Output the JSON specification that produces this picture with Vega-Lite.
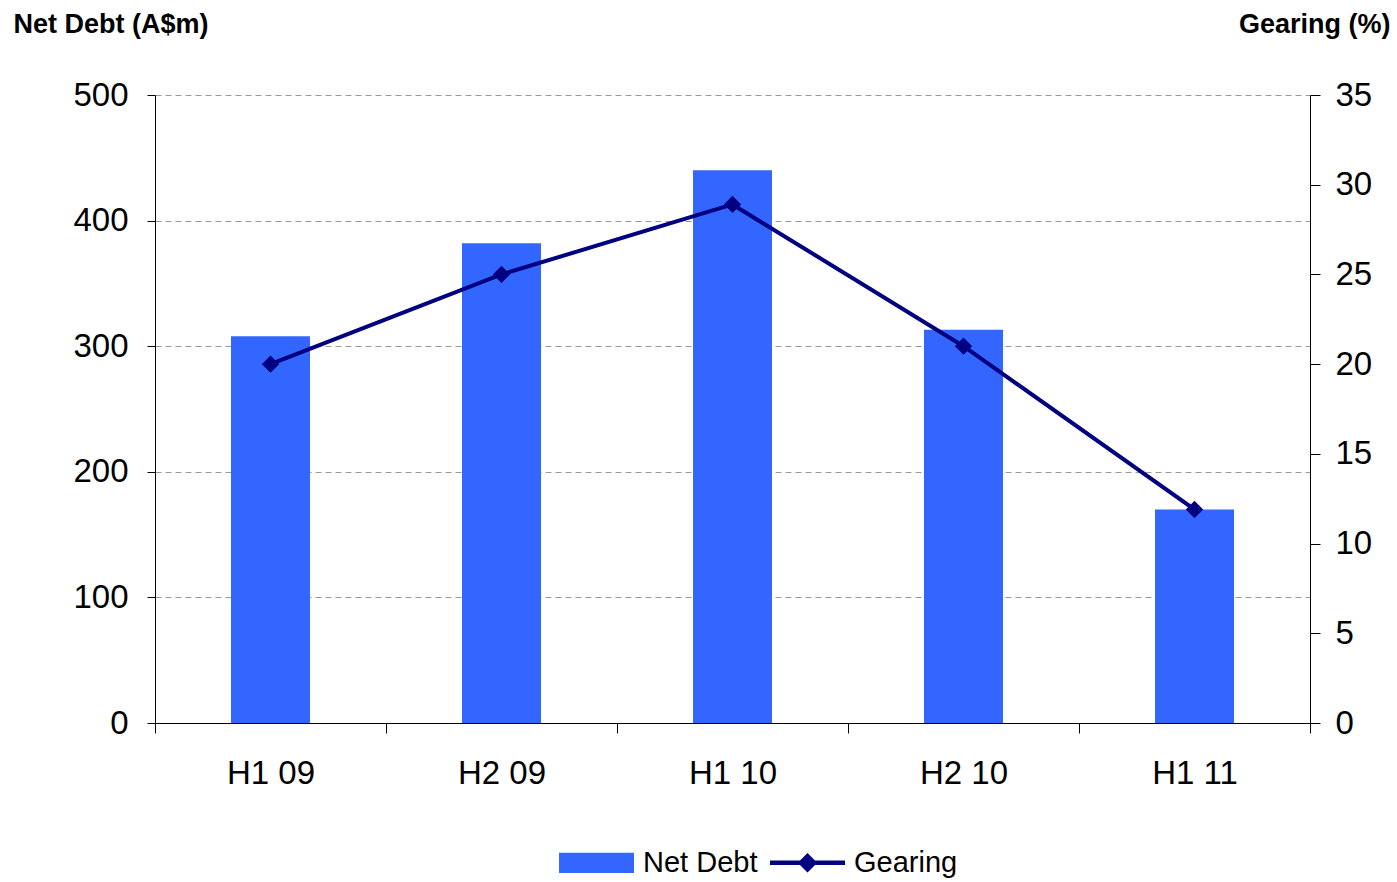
{
  "$schema": "https://vega.github.io/schema/vega-lite/v6.json",
  "width": 1155,
  "height": 628,
  "autosize": {"type": "none"},
  "padding": {"left": 155, "top": 95, "right": 87, "bottom": 159},
  "background": "white",
  "config": {
    "font": "Liberation Sans",
    "view": {"stroke": null},
    "axis": {"labelFont": "Liberation Sans", "titleFont": "Liberation Sans", "labelColor": "black", "titleColor": "black", "domainColor": "black", "tickColor": "black"}
  },
  "data": {
    "values": [
      {"period": "H1 09", "netDebt": 308, "gearing": 20.0},
      {"period": "H2 09", "netDebt": 382, "gearing": 25.0},
      {"period": "H1 10", "netDebt": 440, "gearing": 28.9},
      {"period": "H2 10", "netDebt": 313, "gearing": 21.0},
      {"period": "H1 11", "netDebt": 170, "gearing": 11.9}
    ]
  },
  "encoding": {
    "x": {
      "field": "period", "type": "nominal", "sort": null,
      "scale": {"paddingInner": 0, "paddingOuter": 0},
      "axis": {"title": null, "labelAngle": 0, "labelFontSize": 33, "labelPadding": 24, "tickSize": 10, "tickBand": "extent", "domainWidth": 1, "grid": false}
    }
  },
  "layer": [
    {
      "mark": {"type": "bar", "color": "#3366FF", "width": {"band": 0.342}},
      "encoding": {
        "y": {
          "field": "netDebt", "type": "quantitative",
          "scale": {"domain": [0, 500], "nice": false},
          "axis": {
            "values": [0, 100, 200, 300, 400, 500],
            "title": "Net Debt (A$m)", "titleAngle": 0, "titleX": -142, "titleY": -71,
            "titleAlign": "left", "titleBaseline": "middle", "titleFontSize": 27, "titleFontWeight": "bold",
            "labelFontSize": 33, "labelPadding": 19, "tickSize": 8,
            "grid": true, "gridDash": [6, 4], "gridColor": "#999999", "gridWidth": 1
          }
        },
        "color": {
          "datum": "Net Debt",
          "scale": {"domain": ["Net Debt", "Gearing"], "range": ["#3366FF", "#000080"]},
          "legend": {
            "title": null, "orient": "none", "direction": "horizontal",
            "legendX": 404, "legendY": 730,
            "symbolSize": 5625, "labelFontSize": 29, "labelOffset": 9, "columnPadding": 12,
            "labelColor": "black", "labelFont": "Liberation Sans",
            "encode": {
              "symbols": {
                "update": {
                  "shape": {"signal": "datum.value === 'Net Debt' ? 'M-1,-0.27H1V0.27H-1Z' : 'M-1,-0.06H1V0.06H-1Z M0,-0.26L0.26,0L0,0.26L-0.26,0Z'"},
                  "fill": {"signal": "datum.value === 'Net Debt' ? '#3366FF' : '#000080'"},
                  "stroke": {"value": "transparent"},
                  "strokeWidth": {"value": 0},
                  "opacity": {"value": 1},
                  "fillOpacity": {"value": 1}
                }
              }
            }
          }
        }
      }
    },
    {
      "mark": {"type": "line", "strokeWidth": 4, "point": {"shape": "diamond", "size": 300, "filled": true}},
      "encoding": {
        "y": {
          "field": "gearing", "type": "quantitative",
          "scale": {"domain": [0, 35], "nice": false},
          "axis": {
            "orient": "right",
            "values": [0, 5, 10, 15, 20, 25, 30, 35],
            "title": "Gearing (%)", "titleAngle": 0, "titleX": 80, "titleY": -71,
            "titleAlign": "right", "titleBaseline": "middle", "titleFontSize": 27, "titleFontWeight": "bold",
            "labelFontSize": 33, "labelPadding": 15, "tickSize": 10, "grid": false
          }
        },
        "color": {"datum": "Gearing"}
      }
    }
  ],
  "resolve": {"scale": {"y": "independent"}}
}
